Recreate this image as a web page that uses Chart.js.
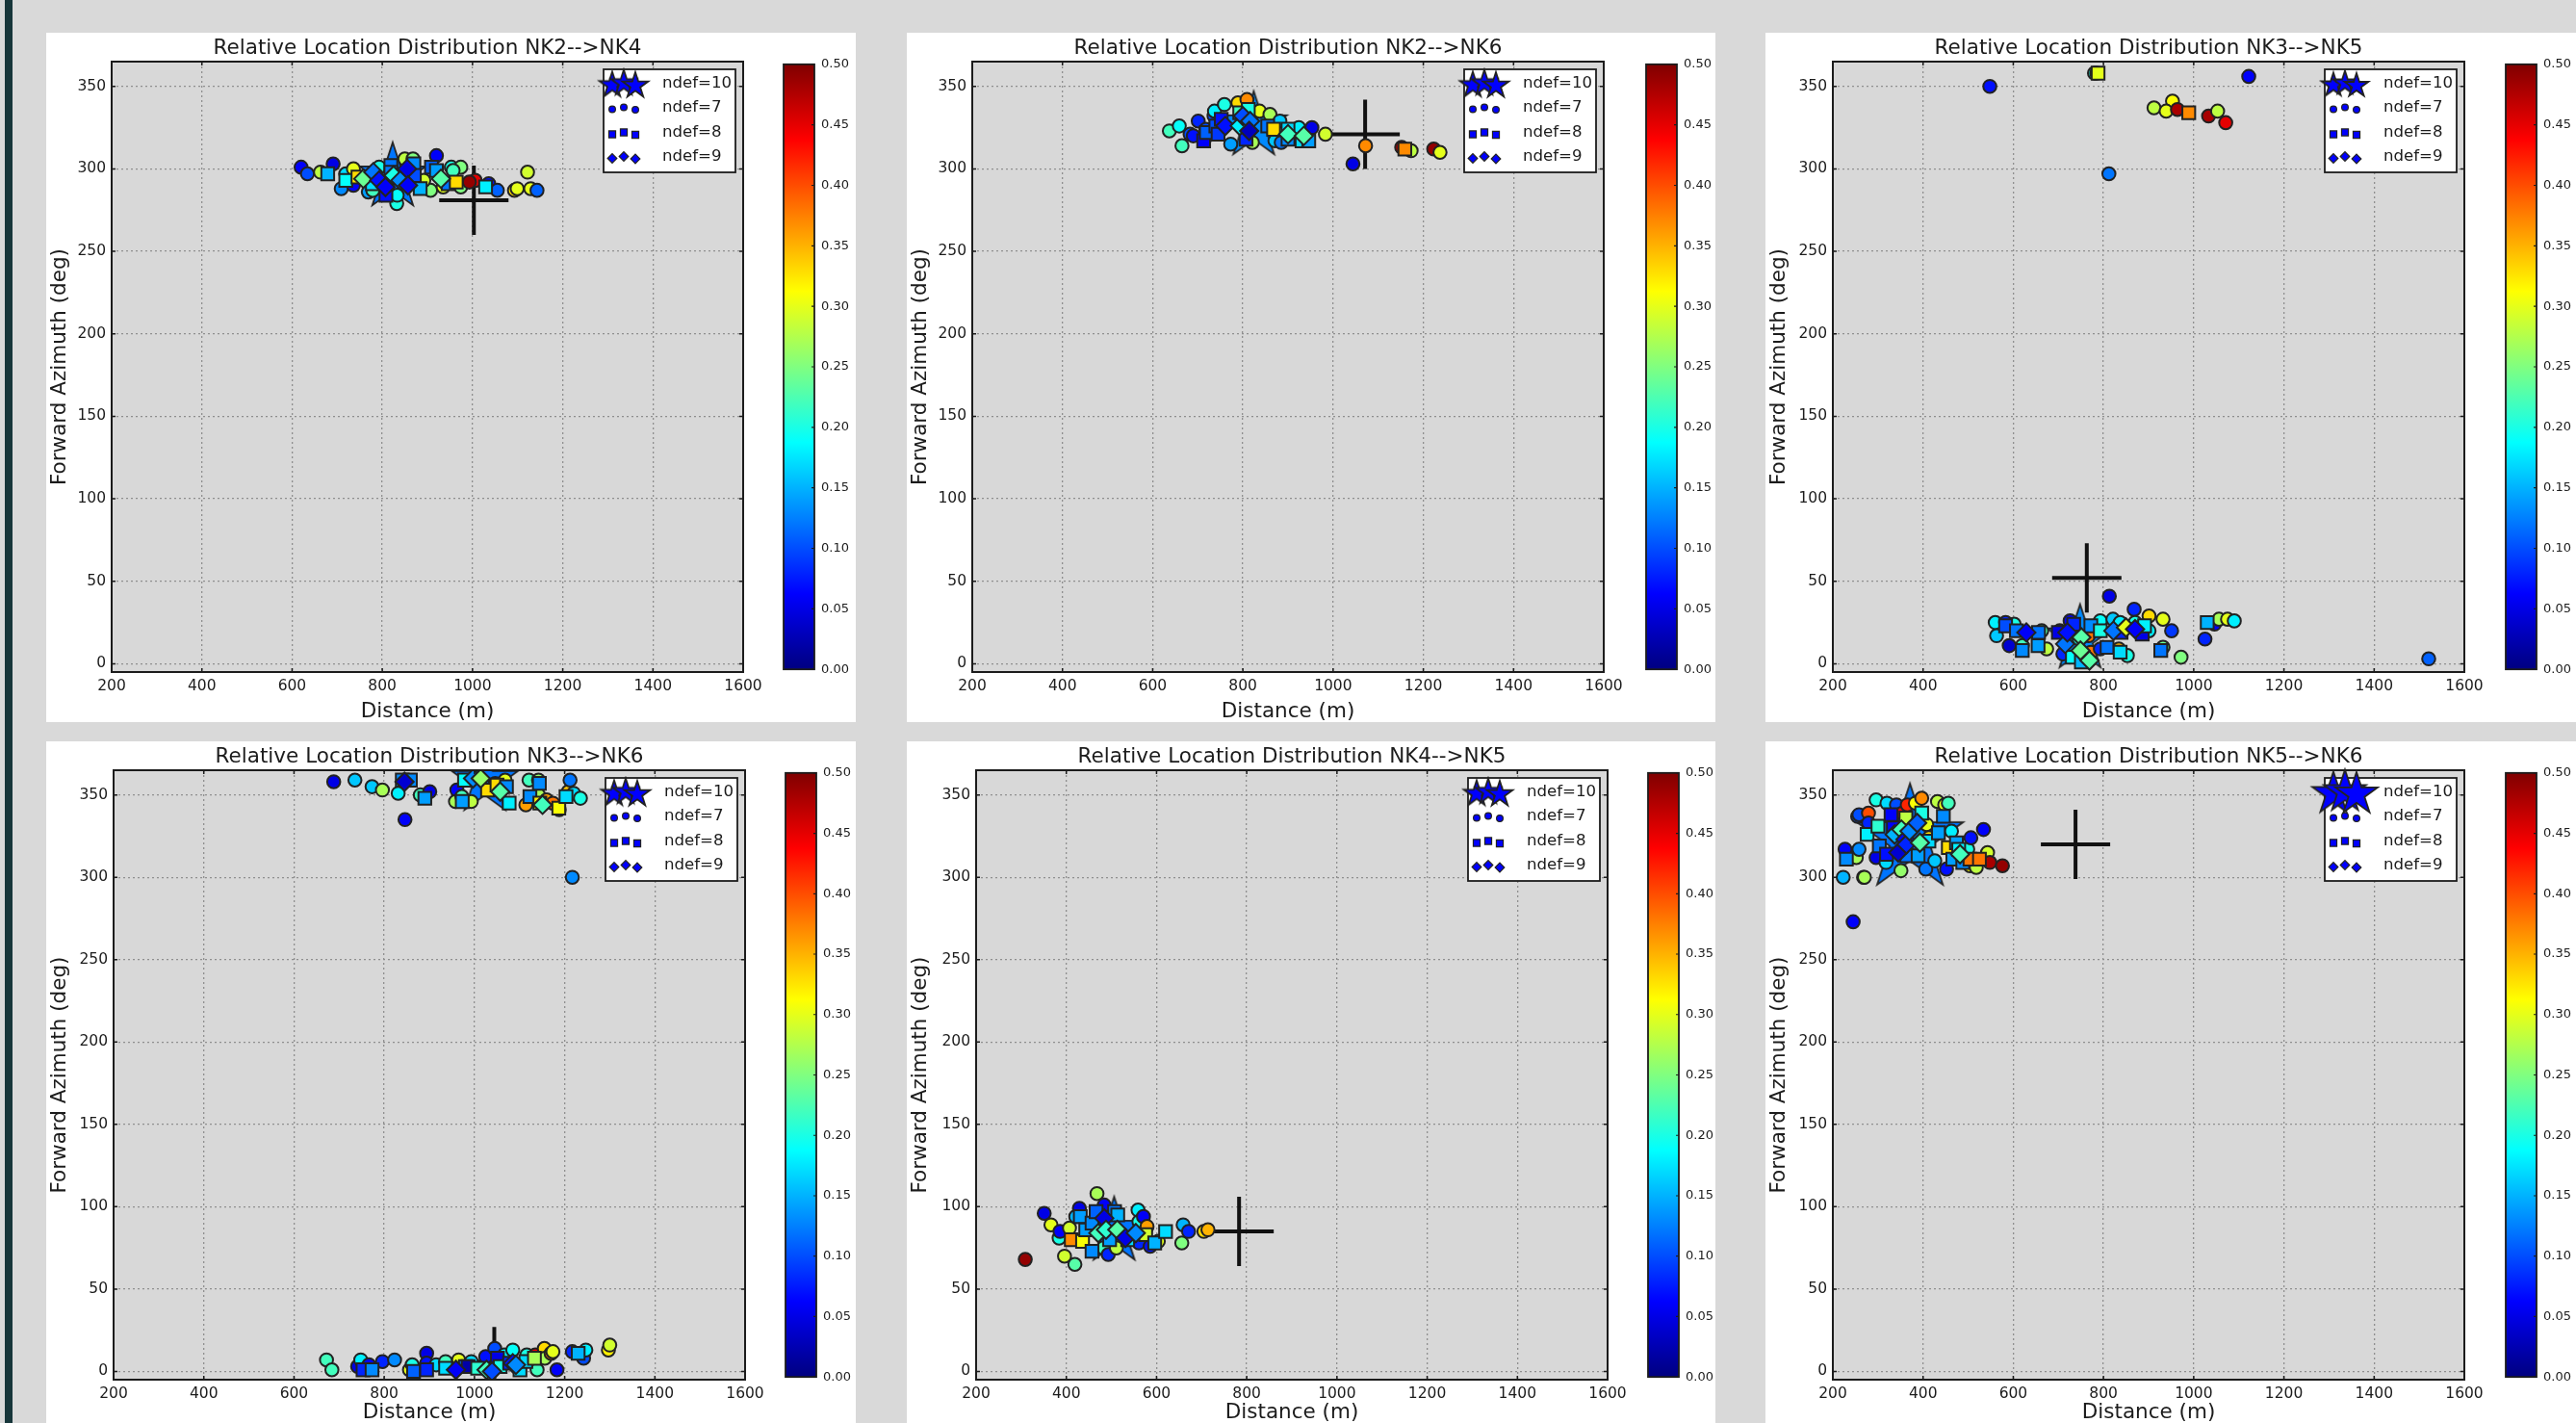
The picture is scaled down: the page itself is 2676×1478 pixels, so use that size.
<!DOCTYPE html>
<html>
<head>
<meta charset="utf-8">
<title>Relative Location Distribution</title>
<script src="https://cdn.jsdelivr.net/npm/chart.js@4"></script>
<style>
  html, body { margin: 0; padding: 0; width: 2676px; height: 1478px; overflow: hidden; background: #d9d9d9; }
  #strip { position: absolute; left: 5px; top: 0; width: 8px; height: 1478px; background: #17363a; }
  .panel { position: absolute; background: #fff; }
  canvas { position: absolute; display: block; }
</style>
</head>
<body>
<div id="strip"></div>
<script>
const xTicks = [200, 400, 600, 800, 1000, 1200, 1400, 1600];
const yTicks = [0, 50, 100, 150, 200, 250, 300, 350];
const cbTicks = [0, 0.05, 0.1, 0.15, 0.2, 0.25, 0.3, 0.35, 0.4, 0.45, 0.5];
const legendLabels = ["ndef=10", "ndef=7", "ndef=8", "ndef=9"];

// every point is [distance, azimuth, colour value]
const nk24Cross = [1003, 281];
const nk24Stars = [[823, 295, 0.12]];
const nk24Circles = [[620,301,.06],[634,297,.1],[663,298,.28],[691,303,.05],[709,288,.13],[719,297,.17],[736,290,.06],[736,300,.3],[769,286,.14],[793,301,.2],[832,279,.2],[833,284,.19],[850,306,.28],[868,306,.25],[920,308,.06],[953,301,.2],[974,301,.25],[957,299,.22],[907,287,.25],[935,289,.3],[892,293,.29],[779,287,.22],[974,289,.25],[1006,293,.45],[993,292,.49],[1036,291,.07],[1055,287,.11],[1093,287,.33],[1099,288,.3],[1122,298,.29],[1129,288,.3],[1143,287,.11]];
const nk24Squares = [[679,297,.15],[719,293,.19],[746,295,.33],[778,291,.17],[808,284,.07],[819,302,.12],[819,298,.12],[870,303,.13],[871,296,.1],[884,288,.15],[909,301,.11],[920,299,.14],[946,291,.12],[964,292,.33],[1029,289,.18]];
const nk24Diamonds = [[758,294,.24],[780,298,.12],[793,293,.07],[807,289,.06],[825,296,.2],[840,293,.13],[855,300,.05],[857,290,.06],[930,294,.23]];

const nk26Cross = [1071, 321];
const nk26Stars = [[824, 326, 0.13]];
const nk26Circles = [[637,323,.22],[659,326,.19],[665,314,.22],[683,321,.1],[690,320,.07],[701,329,.08],[715,318,.06],[718,324,.1],[736,332,.1],[737,335,.18],[759,339,.2],[773,315,.14],[789,340,.33],[809,342,.37],[821,316,.27],[837,335,.3],[860,333,.27],[871,317,.16],[882,329,.16],[885,316,.12],[924,325,.18],[953,325,.05],[983,321,.29],[1044,303,.05],[1072,314,.37],[1152,313,.48],[1173,311,.28],[1223,312,.49],[1237,310,.3]];
const nk26Squares = [[713,317,.06],[719,322,.11],[740,326,.1],[745,321,.09],[752,330,.07],[793,334,.22],[807,318,.08],[812,336,.2],[855,326,.12],[868,324,.33],[900,324,.17],[900,318,.13],[931,317,.17],[946,317,.14],[1159,312,.37]];
const nk26Diamonds = [[761,326,.07],[793,326,.18],[800,332,.1],[816,329,.12],[814,323,.03],[900,321,.22],[935,320,.23]];

const nk35Cross = [763, 52];
const nk35Stars = [[748, 15, 0.13]];
const nk35Circles = [[548,350,.07],[780,358,.2],[785,358,.28],[812,297,.12],[912,337,.28],[953,341,.31],[939,335,.3],[964,336,.48],[1033,332,.48],[1053,335,.28],[1071,328,.45],[1122,356,.06],[560,25,.18],[563,17,.16],[583,25,.08],[602,24,.2],[591,11,.04],[620,11,.22],[663,20,.23],[674,9,.28],[703,20,.05],[726,26,.06],[710,6,.08],[746,15,.2],[767,17,.38],[772,7,.38],[793,26,.19],[793,9,.08],[813,41,.05],[821,27,.16],[834,9,.35],[837,25,.18],[853,5,.2],[868,33,.08],[870,25,.2],[901,29,.33],[901,20,.18],[932,27,.3],[932,10,.24],[951,20,.09],[972,4,.25],[1025,15,.08],[1046,24,.06],[1056,27,.27],[1075,27,.3],[1090,26,.18],[1521,3,.11]];
const nk35Squares = [[788,358,.3],[989,334,.37],[583,23,.1],[607,20,.12],[655,11,.14],[656,19,.12],[620,8,.13],[700,19,.05],[731,4,.19],[734,24,.08],[751,1,.15],[772,23,.13],[793,20,.2],[808,10,.12],[837,7,.17],[839,19,.08],[886,18,.05],[891,23,.18],[927,8,.12],[1030,25,.15]];
const nk35Diamonds = [[629,19,.06],[715,12,.12],[720,19,.07],[751,16,.23],[749,8,.24],[769,2,.23],[822,20,.12],[850,22,.3],[870,21,.06]];

const nk36Cross = [1044, 6];
const nk36Stars = [[1023, 358, 0.12]];
const nk36Circles = [[688,358,.05],[735,359,.16],[773,355,.16],[796,353,.27],[831,351,.18],[846,335,.06],[880,350,.22],[901,352,.05],[961,353,.06],[958,346,.27],[972,349,.22],[993,346,.28],[1046,357,.48],[1068,359,.3],[1114,344,.36],[1121,359,.22],[1142,359,.26],[1142,350,.27],[1160,347,.36],[1174,345,.38],[1188,341,.45],[1208,352,.34],[1212,359,.12],[1220,351,.17],[1235,348,.2],[1217,300,.13],[672,7,.22],[684,1,.22],[741,3,.05],[748,7,.18],[766,4,.06],[796,6,.08],[823,7,.13],[856,1,.3],[862,4,.2],[894,11,.05],[894,5,.07],[915,4,.17],[936,6,.22],[965,7,.3],[993,6,.17],[1025,9,.07],[1045,14,.1],[1066,10,.18],[1085,13,.19],[1116,10,.2],[1135,10,.45],[1139,1,.22],[1155,14,.33],[1156,8,.27],[1170,11,.38],[1174,12,.3],[1183,1,.06],[1217,12,.08],[1242,8,.1],[1247,13,.18],[1297,13,.32],[1300,16,.29]];
const nk36Squares = [[840,359,.13],[858,359,.13],[890,348,.14],[973,346,.14],[978,359,.19],[1029,353,.33],[1050,356,.33],[1071,355,.13],[1077,345,.18],[1123,349,.13],[1144,357,.13],[1145,345,.32],[1187,342,.31],[1203,349,.17],[753,1,.08],[773,1,.13],[865,0,.11],[894,1,.08],[936,2,.17],[980,3,.12],[986,3,.02],[1007,2,.21],[1051,8,.05],[1057,3,.2],[1078,5,.08],[1101,1,.17],[1114,6,.17],[1133,8,.27],[1230,11,.15]];
const nk36Diamonds = [[845,358,.04],[997,360,.13],[1014,360,.26],[1057,352,.23],[1151,344,.22],[959,1,.06],[1027,1,.22],[1039,0,.1],[1085,5,.07],[1092,4,.13]];

const nk45Cross = [783, 85];
const nk45Stars = [[506, 85, 0.12]];
const nk45Circles = [[309,68,.49],[351,96,.05],[366,89,.3],[384,81,.2],[386,85,.06],[396,70,.29],[407,87,.29],[419,65,.23],[421,94,.15],[429,99,.05],[468,108,.27],[482,75,.22],[484,101,.06],[493,71,.08],[511,75,.28],[559,98,.18],[561,91,.2],[561,78,.08],[571,94,.06],[579,88,.36],[586,76,.07],[604,79,.3],[656,78,.25],[659,89,.15],[671,85,.08],[705,85,.33],[714,86,.35]];
const nk45Squares = [[411,80,.37],[431,94,.14],[436,79,.31],[443,86,.14],[457,90,.13],[457,73,.13],[466,97,.11],[496,80,.14],[507,97,.12],[514,95,.15],[536,80,.17],[576,83,.29],[596,78,.15],[620,85,.17]];
const nk45Diamonds = [[471,84,.22],[484,93,.05],[488,86,.21],[513,86,.23],[531,81,.05],[554,84,.13]];

const nk56Cross = [738, 320];
const nk56Stars = [[371, 323, 0.12]];
const nk56Circles = [[223,300,.15],[227,317,.06],[245,273,.06],[252,312,.27],[255,337,.1],[258,338,.1],[258,317,.13],[268,300,.21],[270,300,.27],[279,339,.4],[279,333,.08],[296,347,.2],[296,312,.05],[318,309,.17],[320,345,.17],[341,344,.1],[351,304,.26],[354,339,.45],[365,344,.42],[383,345,.31],[397,348,.37],[406,305,.12],[408,332,.3],[413,324,.33],[426,310,.16],[432,346,.28],[448,344,.3],[452,305,.07],[456,345,.22],[463,328,.18],[499,317,.2],[504,307,.31],[506,324,.07],[518,306,.28],[534,329,.06],[543,315,.29],[548,309,.48],[576,307,.49]];
const nk56Squares = [[230,311,.13],[276,326,.18],[300,331,.21],[303,319,.12],[319,314,.07],[329,338,.06],[334,330,.06],[362,336,.28],[364,313,.12],[389,313,.14],[397,339,.2],[413,322,.17],[434,327,.14],[445,337,.13],[456,318,.33],[466,311,.14],[474,321,.14],[479,317,.18],[488,309,.13],[504,311,.38],[525,311,.38]];
const nk56Diamonds = [[337,326,.15],[345,315,.04],[352,329,.22],[361,323,.06],[363,320,.08],[370,328,.13],[387,333,.11],[393,321,.23],[482,314,.22]];

// left, top, width, height in page pixels
const panels = [
  { title: "Relative Location Distribution NK2-->NK4", box: [48, 34, 841, 716], plot: [116, 64, 656, 634], cb: 813, starSize: 36, legendStar: 14, cross: nk24Cross, stars: nk24Stars, circles: nk24Circles, squares: nk24Squares, diamonds: nk24Diamonds },
  { title: "Relative Location Distribution NK2-->NK6", box: [942, 34, 840, 716], plot: [1010, 64, 656, 634], cb: 1709, starSize: 36, legendStar: 14, cross: nk26Cross, stars: nk26Stars, circles: nk26Circles, squares: nk26Squares, diamonds: nk26Diamonds },
  { title: "Relative Location Distribution NK3-->NK5", box: [1834, 34, 842, 716], plot: [1904, 64, 656, 634], cb: 2602, starSize: 36, legendStar: 13, cross: nk35Cross, stars: nk35Stars, circles: nk35Circles, squares: nk35Squares, diamonds: nk35Diamonds },
  { title: "Relative Location Distribution NK3-->NK6", box: [48, 770, 841, 708], plot: [118, 800, 656, 633], cb: 815, starSize: 36, legendStar: 14, cross: nk36Cross, stars: nk36Stars, circles: nk36Circles, squares: nk36Squares, diamonds: nk36Diamonds },
  { title: "Relative Location Distribution NK4-->NK5", box: [942, 770, 840, 708], plot: [1014, 800, 656, 633], cb: 1711, starSize: 36, legendStar: 14, cross: nk45Cross, stars: nk45Stars, circles: nk45Circles, squares: nk45Squares, diamonds: nk45Diamonds },
  { title: "Relative Location Distribution NK5-->NK6", box: [1834, 770, 842, 708], plot: [1904, 800, 656, 633], cb: 2602, starSize: 58, legendStar: 23, cross: nk56Cross, stars: nk56Stars, circles: nk56Circles, squares: nk56Squares, diamonds: nk56Diamonds },
];

const FONT = "'DejaVu Sans'";
const INK = "#1c1c1c";
const EDGE = "#222";

// matplotlib jet, t from 0 to 1
const jet = (t) => {
  const ch = (v) => Math.round(255 * Math.max(0, Math.min(1, v)));
  const r = Math.min(4 * t - 1.5, -4 * t + 4.5);
  const g = Math.min(4 * t - 0.5, -4 * t + 3.5);
  const b = Math.min(4 * t + 0.5, -4 * t + 2.5);
  return `rgb(${ch(r)},${ch(g)},${ch(b)})`;
};
const colorOf = (c) => jet(c / 0.5);

const starPath = (ctx, cx, cy, r) => {
  ctx.beginPath();
  for (let i = 0; i < 10; i++) {
    const rad = i % 2 === 0 ? r : r * 0.382;
    const a = -Math.PI / 2 + (i * Math.PI) / 5;
    ctx.lineTo(cx + rad * Math.cos(a), cy + rad * Math.sin(a));
  }
  ctx.closePath();
};

// chart.js 'star' is only an asterisk, so the filled one goes in as a canvas
const makeStar = (r, color) => {
  const c = document.createElement("canvas");
  c.width = c.height = Math.ceil(2 * r + 6);
  const ctx = c.getContext("2d");
  starPath(ctx, c.width / 2, c.height / 2, r);
  ctx.fillStyle = color;
  ctx.strokeStyle = EDGE;
  ctx.lineWidth = 1.8;
  ctx.fill();
  ctx.stroke();
  return c;
};

const plotBackground = {
  id: "plotBackground",
  beforeDraw(chart) {
    const a = chart.chartArea;
    chart.ctx.fillStyle = "#d8d8d8";
    chart.ctx.fillRect(a.left, a.top, a.width, a.height);
  },
};

const frameAndTicks = {
  id: "frameAndTicks",
  afterDatasetsDraw(chart) {
    const { ctx, chartArea: a, scales } = chart;
    ctx.save();
    ctx.strokeStyle = INK;
    ctx.lineWidth = 1.5;
    ctx.beginPath();
    xTicks.forEach((v) => {
      const x = scales.x.getPixelForValue(v);
      ctx.moveTo(x, a.top);
      ctx.lineTo(x, a.top + 4);
      ctx.moveTo(x, a.bottom);
      ctx.lineTo(x, a.bottom - 4);
    });
    yTicks.forEach((v) => {
      const y = scales.y.getPixelForValue(v);
      ctx.moveTo(a.left, y);
      ctx.lineTo(a.left + 4, y);
      ctx.moveTo(a.right, y);
      ctx.lineTo(a.right - 4, y);
    });
    ctx.stroke();
    ctx.lineWidth = 2;
    ctx.strokeRect(a.left, a.top, a.width, a.height);
    ctx.restore();
  },
};

// inset legend with three scatter markers per row, like the original
const threeMarkerLegend = {
  id: "threeMarkerLegend",
  afterDatasetsDraw(chart, args, opts) {
    const { ctx, chartArea: a } = chart;
    const left = a.right - 145;
    const top = a.top + 8;
    ctx.save();
    ctx.fillStyle = "#fff";
    ctx.strokeStyle = INK;
    ctx.lineWidth = 1.8;
    ctx.fillRect(left, top, 137, 107);
    ctx.strokeRect(left, top, 137, 107);
    const rows = [15, 40, 66, 91];
    const dx = [9, 21, 33];
    const dy = [1.5, -0.5, 2];
    const star = makeStar(opts.starSize, "#0000ff");
    dx.forEach((d, i) => {
      ctx.drawImage(star, left + d - star.width / 2, top + rows[0] + dy[i] - star.height / 2);
    });
    const styles = ["circle", "rect", "rectRot"];
    const radii = [3.4, 5, 4.8];
    styles.forEach((s, k) => {
      dx.forEach((d, i) => {
        ctx.fillStyle = "#0000ff";
        ctx.strokeStyle = EDGE;
        ctx.lineWidth = 1.2;
        Chart.helpers.drawPoint(ctx, { pointStyle: s, radius: radii[k], borderWidth: 1.2 }, left + d, top + rows[k + 1] + dy[i]);
      });
    });
    ctx.fillStyle = INK;
    ctx.font = "16.6px " + FONT;
    ctx.textBaseline = "middle";
    ctx.textAlign = "left";
    legendLabels.forEach((t, i) => ctx.fillText(t, left + 61, top + rows[i]));
    ctx.restore();
  },
};

const markerDataset = (points, style, radius) => ({
  data: points.map((p) => ({ x: p[0], y: p[1] })),
  pointStyle: style,
  pointRadius: radius,
  pointBackgroundColor: points.map((p) => colorOf(p[2])),
  pointBorderColor: EDGE,
  pointBorderWidth: 2,
  clip: 0,
});

const addCanvas = (left, top, width, height) => {
  const c = document.createElement("canvas");
  c.width = width;
  c.height = height;
  c.style.left = left + "px";
  c.style.top = top + "px";
  document.body.appendChild(c);
  return c;
};

const drawMain = (p) => {
  const [bx, by, bw, bh] = p.box;
  const [px, py, pw, ph] = p.plot;
  const div = document.createElement("div");
  div.className = "panel";
  div.style.cssText = `left:${bx}px;top:${by}px;width:${bw}px;height:${bh}px`;
  document.body.appendChild(div);

  const canvas = addCanvas(bx, by, bw, bh);
  const stars = p.stars.map((s) => makeStar(p.starSize, colorOf(s[2])));
  new Chart(canvas.getContext("2d"), {
    type: "scatter",
    data: {
      // chart.js paints the first dataset last, so this is top to bottom
      datasets: [
        markerDataset(p.diamonds, "rectRot", 9.5),
        markerDataset(p.squares, "rect", 9.4),
        markerDataset(p.circles, "circle", 6.8),
        { data: p.stars.map((s) => ({ x: s[0], y: s[1] })), pointStyle: stars, pointRadius: p.starSize, clip: 0 },
        { data: [{ x: p.cross[0], y: p.cross[1] }], pointStyle: "cross", pointRadius: 36, pointBorderColor: "#111", pointBorderWidth: 4, clip: 0 },
      ],
    },
    options: {
      responsive: false,
      animation: false,
      events: [],
      layout: { autoPadding: false, padding: { left: 0, top: 0, right: bx + bw - px - pw, bottom: 0 } },
      plugins: {
        legend: { display: false },
        tooltip: { enabled: false },
        title: {
          display: true,
          text: p.title,
          fullSize: false,
          color: INK,
          font: { family: FONT, size: 21.5, weight: "normal", lineHeight: 1 },
          padding: { top: py - by - 21.5 - 3, bottom: 3 },
        },
        threeMarkerLegend: { starSize: p.legendStar },
      },
      scales: {
        x: {
          type: "linear",
          min: 200,
          max: 1600,
          afterBuildTicks: (s) => { s.ticks = xTicks.map((v) => ({ value: v })); },
          afterFit: (s) => { s.height = by + bh - py - ph; },
          ticks: { autoSkip: false, maxRotation: 0, padding: 6, color: INK, font: { family: FONT, size: 15.5 }, callback: (v) => String(v) },
          grid: { color: "#8f8f8f", lineWidth: 1.3, drawTicks: false },
          border: { display: false, dash: [2, 3] },
          title: { display: true, text: "Distance (m)", color: INK, font: { family: FONT, size: 21.5, lineHeight: 1 }, padding: { top: 2, bottom: 0 } },
        },
        y: {
          type: "linear",
          min: -5,
          max: 365,
          afterBuildTicks: (s) => { s.ticks = yTicks.map((v) => ({ value: v })); },
          afterFit: (s) => { s.width = px - bx; },
          ticks: { autoSkip: false, padding: 6, color: INK, font: { family: FONT, size: 15.5 }, callback: (v) => String(v) },
          grid: { color: "#8f8f8f", lineWidth: 1.3, drawTicks: false },
          border: { display: false, dash: [2, 3] },
          title: { display: true, text: "Forward Azimuth (deg)", color: INK, font: { family: FONT, size: 21.5, lineHeight: 1 }, padding: { top: 4, bottom: 0 } },
        },
      },
    },
    plugins: [plotBackground, frameAndTicks, threeMarkerLegend],
  });
};

const cbFrame = {
  id: "cbFrame",
  afterDatasetsDraw(chart) {
    const { ctx, chartArea: a, scales } = chart;
    ctx.save();
    ctx.strokeStyle = INK;
    ctx.lineWidth = 1.2;
    ctx.beginPath();
    cbTicks.forEach((v) => {
      const y = scales.y.getPixelForValue(v);
      ctx.moveTo(a.right, y);
      ctx.lineTo(a.right - 3, y);
    });
    ctx.stroke();
    ctx.lineWidth = 1.8;
    ctx.strokeRect(a.left, a.top, a.width, a.height);
    ctx.restore();
  },
};

const drawColorbar = (p) => {
  const [, py, , ph] = p.plot;
  const canvas = addCanvas(p.cb, py - 12, 80, ph + 24);
  new Chart(canvas.getContext("2d"), {
    type: "bar",
    data: {
      labels: [""],
      datasets: [{
        data: [[0, 0.5]],
        barPercentage: 1,
        categoryPercentage: 1,
        backgroundColor: (ctx) => {
          const a = ctx.chart.chartArea;
          if (!a) return "#000";
          const g = ctx.chart.ctx.createLinearGradient(0, a.bottom, 0, a.top);
          for (let i = 0; i <= 32; i++) g.addColorStop(i / 32, jet(i / 32));
          return g;
        },
      }],
    },
    options: {
      responsive: false,
      animation: false,
      events: [],
      layout: { autoPadding: false, padding: { left: 1, top: 12, bottom: 12, right: 0 } },
      plugins: { legend: { display: false }, tooltip: { enabled: false } },
      scales: {
        x: { display: false },
        y: {
          position: "right",
          min: 0,
          max: 0.5,
          afterBuildTicks: (s) => { s.ticks = cbTicks.map((v) => ({ value: v })); },
          afterFit: (s) => { s.width = 47; },
          grid: { display: false, drawTicks: false },
          border: { display: false },
          ticks: {
            autoSkip: false,
            padding: 7,
            color: INK,
            font: { family: FONT, size: 13 },
            callback: (v) => v.toFixed(2),
          },
        },
      },
    },
    plugins: [cbFrame],
  });
};

panels.forEach((p) => {
  drawMain(p);
  drawColorbar(p);
});
</script>
</body>
</html>
